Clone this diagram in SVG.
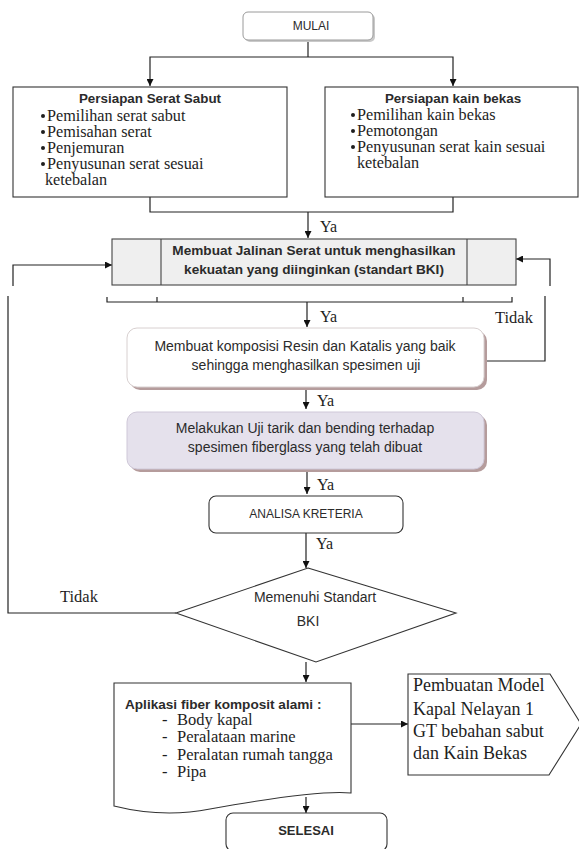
<svg xmlns="http://www.w3.org/2000/svg" width="579" height="849" viewBox="0 0 579 849">
<defs>
<marker id="ah" viewBox="0 0 10 10" refX="10" refY="5" markerWidth="7" markerHeight="7" markerUnits="userSpaceOnUse" orient="auto">
<path d="M0,0 L10,5 L0,10 Z" fill="#111"/>
</marker>
<style>
.sans{font-family:"Liberation Sans",Arial,sans-serif;fill:#2b2b2b}
.serif{font-family:"Liberation Serif","Times New Roman",serif;fill:#1e1e1e}
.b{font-weight:bold}
.ln{fill:none;stroke:#222;stroke-width:1.2}
.ar{fill:none;stroke:#222;stroke-width:1.2;marker-end:url(#ah)}
.box{fill:#fff;stroke:#333;stroke-width:1.1}
.dot{fill:#1e1e1e}
</style>
</defs>
<rect width="579" height="849" fill="#fff"/>

<g id="connectors">
<path class="ln" d="M308,41 V57"/>
<path class="ar" d="M308,57 H150 V86"/>
<path class="ar" d="M308,57 H453 V86"/>
<path class="ln" d="M150,197 V212 H453 V197"/>
<path class="ar" d="M308,212 V238"/>
<path class="ln" d="M107,297 V302 H512 V297 M157,297 V302 M463,297 V302"/>
<path class="ar" d="M307,302 V327"/>
<path class="ar" d="M306,390 V409"/>
<path class="ar" d="M307,472 V494"/>
<path class="ar" d="M306,533 V568"/>
<path class="ln" d="M176,613 H8 V296"/>
<path class="ar" d="M13,286 V265 H112"/>
<path class="ln" d="M487,361 H545 V296"/>
<path class="ar" d="M550,286 V259 H516"/>
<path class="ar" d="M306,662 V682"/>
<path class="ar" d="M351,724 H408"/>
<path class="ar" d="M306,797 V813"/>
</g>

<g id="labels">
<text class="serif" x="320" y="232" font-size="16">Ya</text>
<text class="serif" x="320" y="322" font-size="16">Ya</text>
<text class="serif" x="495" y="323" font-size="16.5">Tidak</text>
<text class="serif" x="317" y="406" font-size="16">Ya</text>
<text class="serif" x="317" y="490" font-size="16">Ya</text>
<text class="serif" x="316" y="549" font-size="16">Ya</text>
<text class="serif" x="60" y="602" font-size="16.5">Tidak</text>
</g>

<g id="mulai">
<rect x="245" y="14" width="130" height="28" rx="5" fill="#c9c9c9"/>
<rect x="243" y="12" width="130" height="28" rx="5" fill="#fff" stroke="#9a9a9a"/>
<text class="sans" x="311" y="30" font-size="12" text-anchor="middle">MULAI</text>
</g>

<g id="serat-sabut">
<rect class="box" x="13" y="87" width="274" height="110"/>
<text class="sans b" x="150" y="103" font-size="13.4" text-anchor="middle">Persiapan Serat Sabut</text>
<circle class="dot" cx="43" cy="116" r="2"/>
<circle class="dot" cx="43" cy="132" r="2"/>
<circle class="dot" cx="43" cy="148" r="2"/>
<circle class="dot" cx="43" cy="164" r="2"/>
<g class="serif" font-size="16.2">
<text x="47" y="121">Pemilihan serat sabut</text>
<text x="47" y="137">Pemisahan serat</text>
<text x="47" y="153">Penjemuran</text>
<text x="47" y="169">Penyusunan serat sesuai</text>
<text x="45" y="185">ketebalan</text>
</g>
</g>

<g id="kain-bekas">
<rect class="box" x="325" y="87" width="253" height="110"/>
<text class="sans b" x="453" y="103" font-size="13.4" text-anchor="middle">Persiapan kain bekas</text>
<circle class="dot" cx="353" cy="115" r="2"/>
<circle class="dot" cx="353" cy="131" r="2"/>
<circle class="dot" cx="353" cy="147" r="2"/>
<g class="serif" font-size="16.2">
<text x="357" y="120">Pemilihan kain bekas</text>
<text x="357" y="136">Pemotongan</text>
<text x="357" y="152">Penyusunan serat kain sesuai</text>
<text x="357" y="168">ketebalan</text>
</g>
</g>

<g id="jalinan">
<rect x="112" y="239" width="404" height="46" fill="#efefef" stroke="#444" stroke-width="1.1"/>
<path d="M161,239 V285 M467,239 V285" stroke="#444" stroke-width="1.1"/>
<text class="sans b" x="314" y="255" font-size="13.6" text-anchor="middle">Membuat Jalinan Serat untuk menghasilkan</text>
<text class="sans b" x="314" y="274" font-size="13.6" text-anchor="middle">kekuatan yang diinginkan (standart BKI)</text>
</g>

<g id="komposisi">
<rect x="130" y="331" width="357" height="59" rx="10" fill="#b59c9c"/>
<rect x="127" y="328" width="357" height="59" rx="10" fill="#fff" stroke="#d8d0d0"/>
<text class="sans" x="305" y="351" font-size="14" text-anchor="middle">Membuat komposisi Resin dan Katalis yang baik</text>
<text class="sans" x="306" y="370" font-size="14" text-anchor="middle">sehingga menghasilkan spesimen uji</text>
</g>

<g id="uji">
<rect x="130" y="415" width="357" height="57" rx="10" fill="#b59c9c"/>
<rect x="127" y="412" width="357" height="57" rx="10" fill="#e5e1ec" stroke="#cfc8d8"/>
<text class="sans" x="305" y="433" font-size="14" text-anchor="middle">Melakukan Uji tarik dan bending terhadap</text>
<text class="sans" x="305" y="452" font-size="14" text-anchor="middle">spesimen fiberglass yang telah dibuat</text>
</g>

<g id="analisa">
<rect x="209" y="496" width="194" height="37" rx="7" fill="#fff" stroke="#333" stroke-width="1.1"/>
<text class="sans" x="306" y="518" font-size="12" text-anchor="middle">ANALISA KRETERIA</text>
</g>

<g id="standart">
<path d="M308,568 L456,613 L316,662 L176,613 Z" fill="#fff" stroke="#333" stroke-width="1.1"/>
<text class="sans" x="315" y="602" font-size="14" text-anchor="middle">Memenuhi Standart</text>
<text class="sans" x="308" y="626" font-size="14" text-anchor="middle">BKI</text>
</g>

<g id="aplikasi">
<path d="M114,683 H351 V793 C320,790 260,800 210,809 C180,815 150,815 114,806 Z" fill="#fff" stroke="#333" stroke-width="1.1"/>
<text class="sans b" x="125" y="709" font-size="13.6">Aplikasi fiber komposit alami  :</text>
<g class="serif" font-size="16.5">
<text x="162" y="725">-</text><text x="177" y="725">Body kapal</text>
<text x="162" y="742">-</text><text x="177" y="742">Peralataan marine</text>
<text x="162" y="760">-</text><text x="177" y="760">Peralatan rumah tangga</text>
<text x="162" y="777">-</text><text x="177" y="777">Pipa</text>
</g>
</g>

<g id="model">
<path d="M408,674 H550 L581,724 L549,775 H408 Z" fill="#fff" stroke="#333" stroke-width="1.1"/>
<g class="serif" font-size="18">
<text x="413" y="691">Pembuatan Model</text>
<text x="413" y="715">Kapal Nelayan 1</text>
<text x="413" y="737">GT bebahan sabut</text>
<text x="413" y="759">dan Kain Bekas</text>
</g>
</g>

<g id="selesai">
<rect x="226" y="813" width="161" height="38" rx="7" fill="#fff" stroke="#333" stroke-width="1.1"/>
<text class="sans b" x="306" y="835" font-size="13" text-anchor="middle">SELESAI</text>
</g>
</svg>
